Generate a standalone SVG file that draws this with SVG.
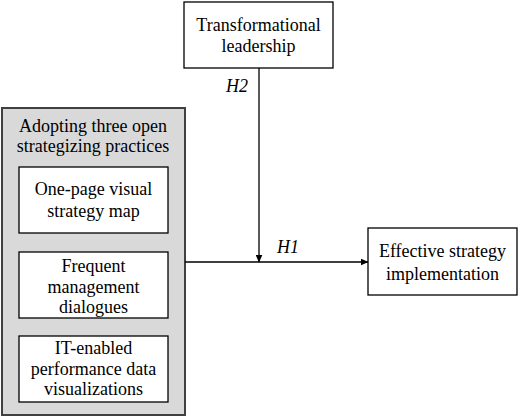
<svg xmlns="http://www.w3.org/2000/svg" width="520" height="417" viewBox="0 0 520 417">
<defs>
<marker id="arr" markerWidth="8" markerHeight="7" refX="7.5" refY="3.5" orient="auto" markerUnits="userSpaceOnUse">
<path d="M0,0 L8,3.5 L0,7 Z" fill="#000"/>
</marker>
<style>
.box{fill:#fff;stroke:#000;stroke-width:1.3}
.outer{fill:#d9d9d9;stroke:#404040;stroke-width:2}
text{font-size:18px;fill:#000;text-anchor:middle}
.lbl{font-style:italic;text-anchor:start}
.ln{stroke:#000;stroke-width:1.3;fill:none}
</style>
</defs>
<rect width="520" height="417" fill="#fff"/>
<g font-family="Liberation Serif, serif">
<g id="practices">
<rect class="outer" x="2" y="108" width="183" height="307"/>
<text x="93" y="132">Adopting three open</text>
<text x="93" y="152">strategizing practices</text>
</g>
<g id="map">
<rect class="box" x="19" y="167" width="149" height="66"/>
<text x="93.5" y="195">One-page visual</text>
<text x="93.5" y="217">strategy map</text>
</g>
<g id="dialogues">
<rect class="box" x="19" y="252" width="149" height="66"/>
<text x="93.5" y="272">Frequent</text>
<text x="93.5" y="293">management</text>
<text x="93.5" y="313">dialogues</text>
</g>
<g id="itviz">
<rect class="box" x="19" y="336" width="149" height="66"/>
<text x="93.5" y="354">IT-enabled</text>
<text x="93.5" y="375">performance data</text>
<text x="93.5" y="395">visualizations</text>
</g>
<g id="leadership">
<rect class="box" x="184" y="2" width="149" height="66"/>
<text x="258.5" y="31">Transformational</text>
<text x="258.5" y="52">leadership</text>
</g>
<g id="implementation">
<rect class="box" x="368" y="228" width="149" height="67"/>
<text x="442.5" y="257">Effective strategy</text>
<text x="442.5" y="280">implementation</text>
</g>
<g id="connectors">
<path class="ln" d="M185,262 H368" marker-end="url(#arr)"/>
<path class="ln" d="M259,68 V262" marker-end="url(#arr)"/>
<text class="lbl" x="226" y="92">H2</text>
<text class="lbl" x="277" y="253">H1</text>
</g>
</g>
</svg>
